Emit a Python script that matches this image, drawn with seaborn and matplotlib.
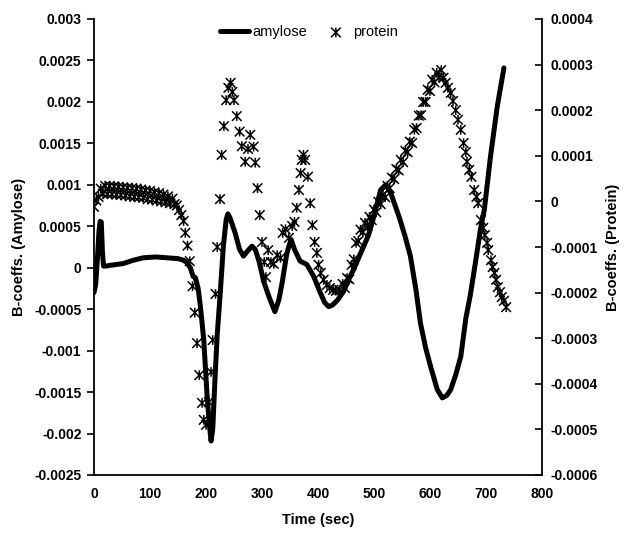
import numpy as np
import pandas as pd
import matplotlib
matplotlib.use("Agg")
import matplotlib.pyplot as plt
from matplotlib.path import Path
import seaborn as sns

# ---------------- data ----------------
amylose_time = [0, 3, 6, 9, 11, 13, 15, 17, 22, 30, 52, 70, 88, 110, 130, 150, 160, 166,
                172, 177, 181, 186, 190, 196, 202, 206, 209, 212, 216, 220, 225, 231, 236,
                239, 243, 252, 260, 267, 274, 282, 288, 295, 303, 313, 323, 330, 336, 344,
                348, 352, 358, 368, 380, 392, 404, 412, 419, 426, 435, 445, 455, 465, 479,
                490, 497, 505, 512, 521, 530, 545, 555, 565, 575, 583, 592, 601, 613, 622,
                630, 637, 646, 655, 664, 672, 682, 690, 697, 708, 720, 732]
amylose_vals = [-3.0e-4, -2.0e-4, 1.0e-4, 4.5e-4, 5.6e-4, 5.5e-4, 2.0e-4, 0.2e-4, 0.2e-4,
                0.3e-4, 0.5e-4, 0.9e-4, 1.2e-4, 1.3e-4, 1.2e-4, 1.1e-4, 0.9e-4, 0.6e-4,
                0.0, -1.05e-4, -1.2e-4, -2.5e-4, -4.66e-4, -8.7e-4, -15.5e-4, -18.9e-4,
                -20.9e-4, -19.5e-4, -13.5e-4, -8.1e-4, -3.5e-4, 2.6e-4, 5.8e-4,
                6.5e-4, 6.0e-4, 4.2e-4, 2.2e-4, 1.4e-4, 2.0e-4, 2.6e-4, 2.2e-4, 0.7e-4,
                -1.65e-4, -3.6e-4, -5.3e-4, -3.9e-4, -1.8e-4, 1.6e-4,
                2.6e-4, 3.4e-4, 2.2e-4, 0.8e-4, 0.4e-4, -1.0e-4, -3.0e-4, -4.2e-4,
                -4.7e-4, -4.5e-4, -3.9e-4, -2.9e-4, -1.4e-4, 0.0, 2.2e-4,
                3.9e-4, 5.5e-4, 7.6e-4, 9.4e-4, 10.0e-4, 9.0e-4, 6.1e-4, 3.9e-4, 1.4e-4,
                -2.7e-4, -6.7e-4, -9.6e-4, -11.9e-4, -14.7e-4, -15.7e-4,
                -15.4e-4, -14.7e-4, -12.9e-4, -10.7e-4, -6.1e-4, -3.3e-4, 1.0e-4, 4.6e-4,
                7.0e-4, 13.4e-4, 19.4e-4, 24.1e-4]

protein_time = [0, 4, 8, 12, 16, 20, 24, 28, 32, 36, 40, 44, 48, 52, 56, 60, 64, 68, 72,
                76, 80, 84, 88, 92, 96, 100, 104, 108, 112, 116, 120, 124, 128, 132, 136,
                140, 144, 148, 152, 156, 160, 163, 167, 171, 176, 180, 184, 188, 193, 196,
                200, 205, 209, 212, 217, 220, 225, 228, 232, 236, 240, 244, 247, 250, 255,
                260, 264, 270, 275, 279, 285, 288, 292, 296, 300, 304, 307, 311, 316, 321,
                327, 333, 337, 342, 348, 354, 358, 362, 366, 369, 371, 374, 377, 382, 386,
                390, 394, 398, 401, 405, 410, 416, 421, 427, 432, 438,
                444, 448, 452, 456, 460, 464, 468, 472, 476, 480, 484, 488, 492, 496, 500,
                504, 508, 512, 516, 520, 524, 528, 532, 536, 540, 544, 548, 552, 556, 560,
                564, 568, 572, 576, 580, 584, 588, 592, 596, 600, 604, 608, 612, 616, 620,
                624, 628, 632, 637, 641, 646, 650, 655, 660, 664, 666, 670, 674, 679, 683,
                686, 691, 695, 698, 702, 704, 709, 712, 715, 718, 721, 725, 728, 732, 736]
protein_vals = [-1.2e-5, 0.2e-5, 1.0e-5, 2.8e-5, 1.7e-5, 3.4e-5, 1.6e-5, 3.4e-5, 1.6e-5,
                3.3e-5, 1.5e-5, 3.2e-5, 1.4e-5, 3.1e-5, 1.3e-5, 3.0e-5, 1.1e-5, 2.9e-5,
                1.0e-5, 2.8e-5, 0.9e-5, 2.6e-5, 0.8e-5, 2.4e-5, 0.5e-5, 2.3e-5, 0.4e-5,
                2.0e-5, 0.2e-5, 1.8e-5, 0.0, 1.5e-5, -0.2e-5, 1.1e-5, -0.4e-5, 0.6e-5,
                -0.6e-5, -0.9e-5, -1.9e-5, -3.0e-5, -4.3e-5, -6.9e-5, -9.7e-5, -13.1e-5,
                -18.6e-5, -24.4e-5, -31.1e-5, -38.1e-5, -44.2e-5, -47.9e-5,
                -49.0e-5, -44.0e-5, -37.4e-5, -30.4e-5, -20.3e-5, -10.0e-5, 0.5e-5,
                10.2e-5, 16.5e-5, 22.2e-5, 24.9e-5, 26.0e-5, 24.0e-5, 22.2e-5, 18.7e-5,
                15.3e-5, 12.1e-5, 8.7e-5, 11.5e-5, 14.6e-5, 12.0e-5, 8.5e-5, 2.9e-5,
                -3.0e-5, -8.9e-5, -13.3e-5, -16.6e-5, -10.7e-5, -13.3e-5, -13.7e-5,
                -11.8e-5, -12.4e-5, -6.9e-5, -6.1e-5, -8.0e-5, -5.4e-5, -4.5e-5, -1.4e-5,
                2.5e-5, 6.2e-5, 9.1e-5, 10.2e-5, 9.1e-5, 5.4e-5, -0.4e-5,
                -5.2e-5, -8.9e-5, -11.3e-5, -13.9e-5, -15.7e-5, -17.2e-5, -18.3e-5,
                -19.0e-5, -19.4e-5, -19.6e-5, -19.4e-5,
                -18.1e-5, -19.0e-5, -16.8e-5, -17.1e-5, -13.9e-5, -12.7e-5, -9.1e-5,
                -8.7e-5, -6.2e-5, -6.8e-5, -4.7e-5, -5.4e-5, -3.4e-5, -4.1e-5, -1.8e-5,
                -2.4e-5, -0.1e-5, -0.6e-5, 1.4e-5, 0.9e-5, 3.4e-5, 2.9e-5, 5.2e-5, 4.9e-5,
                7.1e-5, 6.8e-5, 9.1e-5, 8.6e-5, 11.1e-5, 10.8e-5, 13.1e-5, 12.8e-5,
                15.7e-5, 16.1e-5, 18.8e-5, 18.9e-5, 21.8e-5, 21.8e-5, 24.5e-5, 24.2e-5,
                26.7e-5, 26.1e-5, 28.2e-5, 27.2e-5, 28.8e-5,
                27.1e-5, 26.0e-5, 24.9e-5, 23.8e-5, 22.0e-5, 20.0e-5, 17.9e-5, 15.7e-5,
                12.8e-5, 10.8e-5, 8.7e-5, 6.9e-5, 5.4e-5, 2.5e-5, 1.0e-5,
                -0.4e-5, -4.1e-5, -5.8e-5, -7.4e-5, -9.1e-5, -10.7e-5, -12.9e-5, -14.4e-5,
                -15.7e-5, -17.2e-5, -18.8e-5, -19.9e-5, -21.0e-5, -21.8e-5, -23.2e-5]

x_ticks = [0, 100, 200, 300, 400, 500, 600, 700, 800]
left_ticks = [0.003, 0.0025, 0.002, 0.0015, 0.001, 0.0005, 0, -0.0005, -0.001, -0.0015,
              -0.002, -0.0025]
left_labels = ["0.003", "0.0025", "0.002", "0.0015", "0.001", "0.0005", "0", "-0.0005",
               "-0.001", "-0.0015", "-0.002", "-0.0025"]
right_ticks = [0.0004, 0.0003, 0.0002, 0.0001, 0, -0.0001, -0.0002, -0.0003, -0.0004,
               -0.0005, -0.0006]
right_labels = ["0.0004", "0.0003", "0.0002", "0.0001", "0", "-0.0001", "-0.0002",
                "-0.0003", "-0.0004", "-0.0005", "-0.0006"]

amy_df = pd.DataFrame({"Time": amylose_time, "B": amylose_vals})
pro_df = pd.DataFrame({"Time": protein_time, "B": protein_vals})

# ---------------- style ----------------
sns.set_theme(style="white")
plt.rcParams["font.family"] = ["Liberation Sans", "DejaVu Sans"]
plt.rcParams["text.color"] = "black"
plt.rcParams["axes.labelcolor"] = "black"
plt.rcParams["xtick.color"] = "black"
plt.rcParams["ytick.color"] = "black"

fig = plt.figure(figsize=(6.27, 5.35), dpi=100)
ax = fig.add_axes([94 / 627, 1 - 475 / 535, (542 - 94) / 627, (475 - 19) / 535])
ax2 = ax.twinx()

star = Path([(-1, -1), (1, 1), (-1, 1), (1, -1), (0, -1), (0, 1)],
            [Path.MOVETO, Path.LINETO, Path.MOVETO, Path.LINETO, Path.MOVETO, Path.LINETO])

sns.lineplot(data=amy_df, x="Time", y="B", ax=ax, color="black", linewidth=3.6,
             label="amylose", legend=False)
sns.scatterplot(data=pro_df, x="Time", y="B", ax=ax2, marker=star, s=48,
                facecolor="none", edgecolor="black", linewidth=1.1,
                label="protein", legend=False)

ax.set_xlim(0, 800)
ax.set_ylim(-0.0025, 0.003)
ax2.set_ylim(-0.0006, 0.0004)
ax.set_xticks(x_ticks)
ax.set_xticklabels([str(v) for v in x_ticks])
ax.set_yticks(left_ticks)
ax.set_yticklabels(left_labels)
ax2.set_yticks(right_ticks)
ax2.set_yticklabels(right_labels)

for a in (ax, ax2):
    a.spines["top"].set_visible(False)
    for s in a.spines.values():
        s.set_color("black")
        s.set_linewidth(1.3)
ax.spines["right"].set_visible(False)
ax2.spines["left"].set_visible(False)
ax2.spines["bottom"].set_visible(False)

ax.tick_params(axis="x", direction="inout", length=6, width=1.2, labelsize=10, pad=6, colors="black")
ax.tick_params(axis="y", direction="out", length=5, width=1.2, labelsize=10, pad=4, colors="black")
ax2.tick_params(axis="y", direction="in", length=5, width=1.2, labelsize=10, pad=6, colors="black")
for lab in ax.get_xticklabels() + ax.get_yticklabels() + ax2.get_yticklabels():
    lab.set_fontweight("bold")

ax.set_xlabel("Time (sec)", fontsize=10.5, fontweight="bold", labelpad=8, color="black")
ax.set_ylabel("B-coeffs. (Amylose)", fontsize=10.5, fontweight="bold", labelpad=6, color="black")
ax2.set_ylabel("B-coeffs. (Protein)", fontsize=10.5, fontweight="bold", labelpad=6, color="black")

h1, l1 = ax.get_legend_handles_labels()
h2, l2 = ax2.get_legend_handles_labels()
leg = ax2.legend(h1 + h2, l1 + l2, loc="upper center", bbox_to_anchor=(0.48, 1.015), ncol=2,
                 frameon=False, fontsize=10.5, handlelength=2.0, handletextpad=0.2,
                 columnspacing=1.0)
for t in leg.get_texts():
    t.set_color("black")

fig.savefig("out.png", dpi=100)
